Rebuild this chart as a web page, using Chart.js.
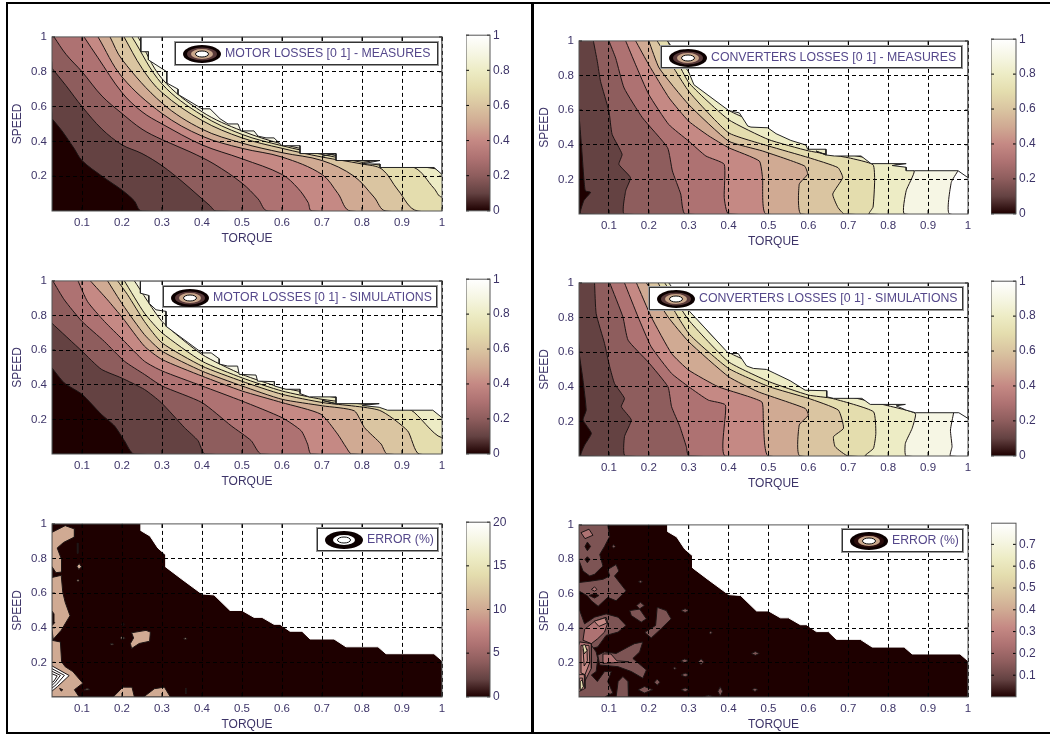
<!DOCTYPE html>
<html>
<head>
<meta charset="utf-8">
<title>Losses maps</title>
<script src="https://cdn.jsdelivr.net/npm/chart.js@4/dist/chart.umd.min.js"></script>
<style>
  html, body { margin: 0; background: #fff; width: 1050px; height: 735px; overflow: hidden; }
  canvas { position: absolute; filter: blur(0.4px); }
  .frame { position: absolute; border: 2px solid #000; box-sizing: border-box; }
  .leg { position: absolute; box-sizing: border-box; background: #fff; border: 1px solid #333; outline: 1px solid #999;
         font: 12.3px "Liberation Sans", Arial, sans-serif; color: #54478a; white-space: nowrap; filter: blur(0.3px); }
  .leg svg { position: absolute; left: 6px; top: 1px; }
  .leg span { position: absolute; top: 3px; }
</style>
</head>
<body>
<div class="frame" style="left:6px;top:2px;width:527px;height:732px"></div>
<div class="frame" style="left:532px;top:2px;width:530px;height:732px"></div>
<script>
const xTicks = [0.1, 0.2, 0.3, 0.4, 0.5, 0.6, 0.7, 0.8, 0.9, 1];
const yTicks = [0.2, 0.4, 0.6, 0.8, 1];
const xMin = 0.025;
const lossBarTicks = [0, 0.2, 0.4, 0.6, 0.8, 1];
const motorErrBarTicks = [0, 5, 10, 15, 20];
const convErrBarTicks = [0.1, 0.2, 0.3, 0.4, 0.5, 0.6, 0.7];
const lossBarRange = [0, 1];
const motorErrBarRange = [0, 20];
const convErrBarRange = [0.001, 0.797];

// pink colormap, one colour per contour level
const levelColors = ['#1e0000', '#644242', '#8e5d5d', '#ae7272', '#c58984', '#d0aa93', '#dac5a1', '#e4ddae', '#edecc5', '#f6f6e4', '#ffffff'];

// contour lines, level 0.1 first
const motorMeasures = [
  [[0.025,0.53],[0.05,0.46],[0.08,0.36],[0.1,0.29],[0.15,0.2],[0.2,0.12],[0.23,0.06],[0.25,0]],
  [[0.025,0.82],[0.06,0.72],[0.1,0.6],[0.15,0.47],[0.2,0.38],[0.25,0.33],[0.3,0.26],[0.35,0.17],[0.39,0.09],[0.42,0.03],[0.435,0]],
  [[0.03,1],[0.06,0.9],[0.1,0.8],[0.15,0.66],[0.2,0.56],[0.25,0.47],[0.3,0.41],[0.37,0.34],[0.43,0.27],[0.5,0.16],[0.54,0.07],[0.565,0]],
  [[0.105,1],[0.14,0.88],[0.2,0.68],[0.25,0.57],[0.3,0.5],[0.4,0.38],[0.5,0.3],[0.6,0.21],[0.64,0.13],[0.665,0.05],[0.675,0]],
  [[0.14,1],[0.2,0.77],[0.3,0.56],[0.4,0.43],[0.5,0.36],[0.6,0.31],[0.7,0.21],[0.74,0.1],[0.772,0]],
  [[0.17,1],[0.2,0.87],[0.3,0.62],[0.4,0.47],[0.5,0.39],[0.6,0.335],[0.7,0.29],[0.78,0.2],[0.83,0.08],[0.86,0]],
  [[0.205,1],[0.25,0.82],[0.3,0.68],[0.4,0.52],[0.5,0.42],[0.6,0.36],[0.7,0.31],[0.8,0.27],[0.85,0.24],[0.89,0.12],[0.94,0]],
  [[0.225,1],[0.3,0.73],[0.4,0.55],[0.5,0.44],[0.6,0.375],[0.7,0.325],[0.84,0.265],[0.93,0.25],[0.98,0.13],[1,0.08]],
  [[0.24,1],[0.3,0.76],[0.4,0.57],[0.5,0.46],[0.6,0.385],[0.7,0.335],[0.84,0.28]]
];
const motorMeasuresEdge = [[0.247,1],[0.247,0.915],[0.266,0.915],[0.266,0.868],[0.312,0.8],[0.312,0.735],[0.34,0.7],[0.34,0.67],[0.4,0.587],[0.42,0.587],[0.445,0.53],[0.465,0.5],[0.49,0.5],[0.497,0.46],[0.53,0.46],[0.54,0.43],[0.56,0.42],[0.58,0.42],[0.6,0.375],[0.645,0.375],[0.645,0.33],[0.665,0.33],[0.735,0.33],[0.7,0.315],[0.735,0.33],[0.735,0.29],[0.845,0.29],[0.8,0.27],[0.845,0.27],[0.845,0.25],[0.98,0.25],[1,0.21]];

const motorSims = [
  [[0.024,0.5],[0.056,0.41],[0.1,0.345],[0.148,0.23],[0.181,0.163],[0.206,0.077],[0.23,0]],
  [[0.024,0.757],[0.1,0.594],[0.148,0.49],[0.198,0.44],[0.256,0.373],[0.298,0.297],[0.356,0.153],[0.39,0.077],[0.408,0]],
  [[0.027,1],[0.056,0.89],[0.1,0.766],[0.156,0.65],[0.206,0.536],[0.256,0.46],[0.3,0.393],[0.4,0.297],[0.473,0.163],[0.523,0.077],[0.548,0]],
  [[0.09,1],[0.114,0.88],[0.156,0.766],[0.202,0.66],[0.256,0.536],[0.3,0.48],[0.4,0.393],[0.5,0.306],[0.6,0.21],[0.648,0.134],[0.664,0.057],[0.673,0]],
  [[0.121,1],[0.164,0.89],[0.202,0.785],[0.256,0.623],[0.3,0.546],[0.4,0.45],[0.5,0.364],[0.6,0.297],[0.697,0.23],[0.739,0.115],[0.76,0.04],[0.774,0]],
  [[0.164,1],[0.202,0.862],[0.256,0.69],[0.3,0.594],[0.4,0.479],[0.5,0.393],[0.6,0.316],[0.702,0.278],[0.781,0.249],[0.806,0.153],[0.848,0.057],[0.863,0]],
  [[0.189,1],[0.214,0.92],[0.256,0.766],[0.3,0.642],[0.4,0.508],[0.5,0.42],[0.6,0.345],[0.702,0.297],[0.843,0.253],[0.914,0.134],[0.943,0]],
  [[0.206,1],[0.256,0.814],[0.3,0.7],[0.4,0.536],[0.5,0.44],[0.6,0.364],[0.7,0.316],[0.84,0.278],[0.923,0.253],[0.998,0.096]],
  [[0.231,1],[0.3,0.766],[0.4,0.575],[0.5,0.46],[0.6,0.383],[0.735,0.326],[0.84,0.29]]
];
const motorSimsEdge = [[0.246,1],[0.246,0.929],[0.267,0.916],[0.267,0.872],[0.285,0.833],[0.31,0.824],[0.31,0.738],[0.4,0.584],[0.423,0.584],[0.443,0.55],[0.443,0.52],[0.464,0.508],[0.489,0.508],[0.493,0.46],[0.535,0.456],[0.539,0.421],[0.581,0.418],[0.581,0.393],[0.61,0.374],[0.645,0.374],[0.645,0.349],[0.668,0.33],[0.735,0.33],[0.735,0.291],[0.7,0.31],[0.735,0.291],[0.843,0.291],[0.8,0.28],[0.843,0.27],[0.864,0.253],[0.977,0.253],[1,0.21]];

const convMeasures = [
  [[0.025,0.575],[0.031,0.4],[0.037,0.21],[0.041,0.134],[0.054,0.125],[0.037,0.077],[0.029,0]],
  [[0.061,1],[0.071,0.88],[0.079,0.766],[0.1,0.594],[0.108,0.46],[0.133,0.345],[0.125,0.287],[0.154,0.21],[0.142,0.134],[0.139,0]],
  [[0.1,1],[0.117,0.9],[0.138,0.728],[0.184,0.556],[0.247,0.383],[0.259,0.249],[0.28,0.115],[0.291,0]],
  [[0.142,1],[0.167,0.862],[0.2,0.69],[0.25,0.517],[0.3,0.421],[0.343,0.335],[0.389,0.287],[0.389,0.096],[0.4,0]],
  [[0.167,1],[0.2,0.862],[0.251,0.67],[0.3,0.536],[0.351,0.45],[0.4,0.383],[0.477,0.306],[0.485,0.21],[0.494,0]],
  [[0.2,1],[0.226,0.843],[0.3,0.632],[0.4,0.421],[0.485,0.364],[0.59,0.278],[0.598,0.23],[0.577,0.172],[0.582,0]],
  [[0.221,1],[0.3,0.709],[0.4,0.469],[0.5,0.393],[0.6,0.326],[0.674,0.268],[0.686,0.21],[0.661,0.115],[0.674,0.038],[0.69,0]],
  [[0.247,1],[0.3,0.76],[0.4,0.545],[0.5,0.43],[0.6,0.365],[0.7,0.325],[0.762,0.285],[0.766,0.192],[0.762,0.04],[0.752,0]],
  [[0.27,1],[0.3,0.85],[0.4,0.6],[0.5,0.5],[0.6,0.41],[0.7,0.345],[0.8,0.3],[0.865,0.25],[0.845,0.134],[0.841,0]],
  [[0.975,0.25],[0.958,0.182],[0.954,0]]
];
const convMeasuresEdge = [[0.247,1],[0.3,0.82],[0.313,0.747],[0.4,0.598],[0.427,0.584],[0.448,0.508],[0.456,0.502],[0.498,0.498],[0.519,0.464],[0.556,0.425],[0.594,0.398],[0.598,0.374],[0.644,0.374],[0.644,0.341],[0.619,0.364],[0.644,0.341],[0.665,0.335],[0.732,0.335],[0.757,0.291],[0.845,0.291],[0.81,0.28],[0.845,0.27],[0.845,0.25],[0.866,0.25],[0.975,0.25],[1,0.21]];

const convSims = [
  [[0.026,0.583],[0.035,0.438],[0.043,0.265],[0.035,0.208],[0.056,0.131],[0.039,0.063],[0.03,0]],
  [[0.064,1],[0.068,0.823],[0.089,0.65],[0.102,0.515],[0.114,0.419],[0.139,0.333],[0.131,0.285],[0.156,0.208],[0.139,0.112],[0.141,0]],
  [[0.102,1],[0.135,0.804],[0.148,0.669],[0.198,0.544],[0.248,0.4],[0.257,0.285],[0.278,0.169],[0.294,0.054],[0.3,0]],
  [[0.139,1],[0.173,0.804],[0.206,0.631],[0.257,0.477],[0.3,0.4],[0.349,0.323],[0.392,0.294],[0.392,0]],
  [[0.169,1],[0.206,0.804],[0.257,0.592],[0.3,0.496],[0.374,0.4],[0.483,0.313],[0.487,0.208],[0.5,0]],
  [[0.194,1],[0.248,0.804],[0.3,0.66],[0.4,0.458],[0.474,0.371],[0.592,0.275],[0.6,0.236],[0.577,0.179],[0.579,0]],
  [[0.223,1],[0.3,0.708],[0.4,0.506],[0.502,0.4],[0.6,0.333],[0.675,0.265],[0.688,0.16],[0.663,0.112],[0.667,0.054],[0.7,0]],
  [[0.24,1],[0.3,0.785],[0.4,0.544],[0.502,0.429],[0.6,0.352],[0.659,0.333],[0.763,0.256],[0.769,0.131],[0.763,0.044],[0.742,0]],
  [[0.27,1],[0.3,0.85],[0.4,0.6],[0.5,0.5],[0.6,0.41],[0.7,0.345],[0.8,0.29],[0.868,0.246],[0.86,0.16],[0.843,0.073],[0.845,0]],
  [[0.964,0.25],[0.956,0.15],[0.96,0.054],[0.956,0]]
];
const convSimsEdge = [[0.25,1],[0.303,0.833],[0.4,0.592],[0.424,0.592],[0.445,0.52],[0.462,0.506],[0.495,0.5],[0.516,0.477],[0.554,0.435],[0.592,0.38],[0.646,0.377],[0.646,0.342],[0.663,0.333],[0.734,0.333],[0.755,0.298],[0.843,0.298],[0.82,0.29],[0.845,0.265],[0.868,0.25],[0.977,0.25],[1,0.217]];

const errorEdge = [[0.248,1],[0.248,0.96],[0.27,0.93],[0.29,0.86],[0.31,0.82],[0.31,0.75],[0.35,0.68],[0.4,0.595],[0.43,0.59],[0.47,0.5],[0.5,0.5],[0.53,0.46],[0.55,0.46],[0.58,0.42],[0.595,0.42],[0.62,0.38],[0.65,0.38],[0.67,0.335],[0.73,0.335],[0.76,0.29],[0.84,0.29],[0.86,0.25],[0.98,0.25],[1,0.21]];

// motor error map: closed patches above the dark background
const motorErrPatches = [
  [[0.024,0.95],[0.058,0.99],[0.082,0.97],[0.081,0.924],[0.054,0.893],[0.038,0.861],[0.049,0.794],[0.049,0.722],[0.035,0.718],[0.024,0.756]],
  [[0.024,0.69],[0.048,0.703],[0.052,0.604],[0.058,0.547],[0.07,0.47],[0.048,0.385],[0.028,0.333],[0.024,0.41],[0.032,0.43],[0.03,0.48],[0.024,0.5]],
  [[0.024,0.328],[0.046,0.318],[0.049,0.204],[0.058,0.175],[0.077,0.147],[0.102,0.08],[0.081,0.042],[0.093,0],[0.024,0]],
  [[0.224,0.371],[0.26,0.385],[0.271,0.375],[0.269,0.322],[0.243,0.309],[0.224,0.28],[0.221,0.309],[0.229,0.341]],
  [[0.178,0],[0.202,0.057],[0.225,0.057],[0.231,0]],
  [[0.254,0],[0.281,0.048],[0.306,0.057],[0.321,0]],
  [[0.196,0.341],[0.2,0.35],[0.208,0.34],[0.2,0.333]],
  [[0.087,0.756],[0.093,0.771],[0.099,0.752],[0.092,0.737]],
  [[0.088,0.89],[0.09,0.89],[0.09,0.83],[0.088,0.83]],
  [[0.087,0.674],[0.09,0.68],[0.093,0.674],[0.09,0.666]],
  [[0.105,0.04],[0.113,0.05],[0.12,0.042]],
  [[0.354,0.337],[0.358,0.342],[0.363,0.337],[0.358,0.332]],
  [[0.359,0.05],[0.361,0.05],[0.361,0.02],[0.359,0.02]],
  [[0.17,0.305],[0.175,0.31],[0.179,0.305],[0.175,0.3]]
];
const motorErrDots = [
  [[0.044,0.05],[0.052,0.042],[0.048,0.034]],
  [[0.198,0.42],[0.202,0.425],[0.206,0.42],[0.202,0.412]]
];
const motorErrPeak = [
  [[0.024,0.181],[0.068,0.124],[0.039,0.061],[0.024,0.032]],
  [[0.024,0.165],[0.056,0.125],[0.036,0.072],[0.024,0.05]],
  [[0.024,0.15],[0.046,0.125],[0.032,0.082],[0.024,0.066]],
  [[0.024,0.135],[0.038,0.122],[0.03,0.092],[0.024,0.082]]
];

// converters error map
const convErrPatches = [
  [[0.024,1],[0.097,1],[0.102,0.933],[0.089,0.875],[0.077,0.828],[0.085,0.761],[0.064,0.713],[0.052,0.703],[0.035,0.732],[0.024,0.799]],
  [[0.097,0.741],[0.118,0.77],[0.125,0.732],[0.114,0.703],[0.143,0.617],[0.118,0.559],[0.097,0.579],[0.073,0.527],[0.056,0.559],[0.046,0.588],[0.024,0.617],[0.024,0.665],[0.056,0.674],[0.085,0.684],[0.102,0.703]],
  [[0.024,0.521],[0.039,0.425],[0.064,0.464],[0.093,0.483],[0.123,0.464],[0.143,0.416],[0.123,0.377],[0.093,0.358],[0.072,0.291],[0.056,0.282],[0.024,0.31]],
  [[0.024,0.32],[0.056,0.301],[0.068,0.262],[0.072,0.224],[0.068,0.148],[0.056,0.128],[0.071,0.09],[0.089,0.148],[0.106,0.148],[0.097,0.09],[0.11,0.023],[0.089,0],[0.024,0]],
  [[0.072,0.243],[0.089,0.262],[0.118,0.253],[0.148,0.291],[0.164,0.31],[0.185,0.32],[0.177,0.262],[0.16,0.224],[0.194,0.157],[0.185,0.109],[0.156,0.148],[0.123,0.176],[0.077,0.186]],
  [[0.118,0],[0.123,0.09],[0.135,0.119],[0.148,0.09],[0.149,0]],
  [[0.173,0.042],[0.189,0.061],[0.21,0.042],[0.189,0.023]],
  [[0.152,0.502],[0.177,0.511],[0.194,0.454],[0.181,0.435],[0.156,0.473]],
  [[0.169,0.531],[0.179,0.55],[0.189,0.531],[0.177,0.512]],
  [[0.191,0.377],[0.217,0.416],[0.221,0.521],[0.244,0.502],[0.256,0.454],[0.231,0.397],[0.206,0.343],[0.191,0.373]],
  [[0.281,0.502],[0.291,0.513],[0.301,0.502],[0.291,0.491]],
  [[0.28,0.21],[0.29,0.221],[0.3,0.21],[0.29,0.199]],
  [[0.281,0.128],[0.291,0.139],[0.301,0.128],[0.291,0.117]],
  [[0.281,0.042],[0.291,0.053],[0.301,0.042],[0.291,0.031]],
  [[0.324,0.205],[0.331,0.222],[0.338,0.205],[0.331,0.188]],
  [[0.373,0.033],[0.379,0.06],[0.385,0.033],[0.379,0.004]],
  [[0.457,0.253],[0.467,0.264],[0.477,0.253],[0.467,0.242]],
  [[0.459,0.042],[0.466,0.052],[0.473,0.042],[0.466,0.032]],
  [[0.351,0.374],[0.355,0.382],[0.359,0.374],[0.355,0.366]],
  [[0.174,0.67],[0.179,0.677],[0.184,0.67],[0.179,0.663]],
  [[0.108,0.875],[0.112,0.886],[0.116,0.875],[0.112,0.864]],
  [[0.214,0.086],[0.221,0.104],[0.228,0.086],[0.221,0.068]],
  [[0.261,0.167],[0.265,0.174],[0.269,0.167],[0.265,0.16]],
  [[0.335,0],[0.35,0.01],[0.365,0]]
];
const convErrDark = [
  [[0.04,0.875],[0.046,0.9],[0.054,0.875],[0.046,0.85]],
  [[0.04,0.8],[0.046,0.815],[0.052,0.8],[0.046,0.78]],
  [[0.05,0.59],[0.064,0.6],[0.075,0.59],[0.064,0.575]]
];
const convErrMid = [
  [[0.039,0.393],[0.064,0.44],[0.093,0.463],[0.097,0.43],[0.089,0.377],[0.072,0.339],[0.056,0.31],[0.035,0.33]],
  [[0.085,0.25],[0.105,0.25],[0.12,0.21],[0.15,0.205],[0.085,0.195]],
  [[0.027,0.32],[0.056,0.31],[0.056,0.167],[0.035,0.071],[0.024,0.052],[0.024,0.3]],
  [[0.03,0.955],[0.05,0.975],[0.06,0.94],[0.04,0.92]],
  [[0.056,0.625],[0.064,0.64],[0.07,0.625],[0.064,0.615]]
];
const convErrHigh = [
  [[0.063,0.44],[0.09,0.46],[0.095,0.43],[0.075,0.41]],
  [[0.03,0.3],[0.05,0.3],[0.052,0.2],[0.04,0.13],[0.03,0.14]],
  [[0.035,0.28],[0.045,0.28],[0.046,0.21],[0.038,0.18]],
  [[0.024,0.13],[0.038,0.13],[0.04,0.05],[0.024,0.03]],
  [[0.026,0.11],[0.034,0.11],[0.036,0.06],[0.026,0.05]]
];
const convErrPeak = [
  [[0.034,0.3],[0.04,0.305],[0.045,0.27],[0.038,0.25]],
  [[0.028,0.09],[0.033,0.1],[0.036,0.06],[0.03,0.04]]
];

const fontFamily = '"Liberation Sans", Arial, sans-serif';
const textColor = '#3d3468';
const lineColor = '#1c1414';

// the plot frame and the inward tick marks of each axis
const framePlugin = {
  id: 'frame',
  afterDraw(chart) {
    const { ctx, chartArea: a, scales } = chart;
    ctx.save();
    ctx.strokeStyle = '#000';
    ctx.lineWidth = 1;
    ctx.beginPath();
    if (scales.x.options.display) {
      scales.x.ticks.forEach(t => {
        const px = scales.x.getPixelForValue(t.value);
        ctx.moveTo(px, a.bottom); ctx.lineTo(px, a.bottom - 4);
        ctx.moveTo(px, a.top); ctx.lineTo(px, a.top + 4);
      });
    }
    scales.y.ticks.forEach(t => {
      const py = scales.y.getPixelForValue(t.value);
      ctx.moveTo(a.left, py); ctx.lineTo(a.left + 3, py);
      ctx.moveTo(a.right, py); ctx.lineTo(a.right - 3, py);
    });
    ctx.stroke();
    ctx.strokeStyle = '#555';
    ctx.strokeRect(a.left, a.top, a.right - a.left, a.bottom - a.top);
    ctx.restore();
  }
};

function addCanvas(left, top, width, height) {
  const c = document.createElement('canvas');
  c.width = width;
  c.height = height;
  c.style.left = left + 'px';
  c.style.top = top + 'px';
  document.body.appendChild(c);
  return c;
}

function closed(points) {
  return points.concat([points[0]]);
}

// area on the high side of a contour line; it closes outside the axes where
// the clip hides it, and the mask cuts it down to the envelope
function region(curve) {
  const first = curve[0], last = curve[curve.length - 1];
  return closed(curve.concat([[1.3, last[1]], [1.3, 1.3], [first[0], 1.3]]));
}

function shape(points, fillColor, border, tension) {
  return {
    data: points,
    showLine: true,
    fill: 'shape',
    backgroundColor: fillColor,
    borderColor: border,
    borderWidth: 1,
    pointRadius: 0,
    tension: tension || 0
  };
}

function contourSets(curves, edge, tension) {
  const sets = [shape(closed([[xMin, 0], [1, 0], [1, 1], [xMin, 1]]), levelColors[0], lineColor)];
  curves.forEach((curve, i) => {
    sets.push(shape(region(curve), levelColors[i + 1], lineColor, tension));
  });
  sets.push(shape(closed(edge.concat([[1, 1]])), '#ffffff', '#222'));
  return sets;
}

function patchSets(groups, edge) {
  const sets = [shape(closed([[xMin, 0], [1, 0], [1, 1], [xMin, 1]]), levelColors[0], lineColor)];
  groups.forEach(g => g.polys.forEach(p => sets.push(shape(closed(p), g.color, lineColor))));
  sets.push(shape(closed(edge.concat([[1, 1]])), '#ffffff', '#ffffff'));
  return sets;
}

function drawPlot(box, sets) {
  const leftW = 42, rightW = 12, topH = 10, bottomH = 35;
  const canvas = addCanvas(box.x - leftW, box.y - topH, box.w + leftW + rightW, box.h + topH + bottomH);
  sets.forEach((s, i) => { s.order = sets.length - i; });
  new Chart(canvas, {
    type: 'scatter',
    data: { datasets: sets },
    plugins: [framePlugin],
    options: {
      responsive: false,
      animation: false,
      layout: { padding: { top: topH, right: rightW } },
      plugins: { legend: { display: false }, tooltip: { enabled: false } },
      events: [],
      scales: {
        x: {
          type: 'linear', min: xMin, max: 1,
          afterBuildTicks: s => { s.ticks = xTicks.map(v => ({ value: v })); },
          afterFit: s => { s.height = bottomH; },
          grid: { z: 1, color: '#000', drawTicks: false },
          border: { display: false, dash: [4, 3] },
          ticks: { autoSkip: false, maxRotation: 0, padding: 5, color: textColor, font: { family: fontFamily, size: 11.5 }, callback: v => String(v) },
          title: { display: true, text: 'TORQUE', color: textColor, font: { family: fontFamily, size: 12 }, padding: 0 }
        },
        y: {
          type: 'linear', min: 0, max: 1,
          afterBuildTicks: s => { s.ticks = yTicks.map(v => ({ value: v })); },
          afterFit: s => { s.width = leftW; },
          grid: { z: 1, color: c => (c.tick && c.tick.value === 1 ? 'rgba(0,0,0,0)' : '#000'), drawTicks: false },
          border: { display: false, dash: [4, 3] },
          ticks: { autoSkip: false, padding: 5, color: textColor, font: { family: fontFamily, size: 11.5 }, callback: v => String(v) },
          title: { display: true, text: 'SPEED', color: textColor, font: { family: fontFamily, size: 12 }, padding: 0 }
        }
      }
    }
  });
}

function drawColorbar(box, range, ticks) {
  const topH = 10, rightW = 36;
  const canvas = addCanvas(box.x, box.y - topH, box.w + rightW, box.h + 2 * topH);
  new Chart(canvas, {
    type: 'bar',
    data: {
      labels: [''],
      datasets: [{
        data: [range],
        barPercentage: 1,
        categoryPercentage: 1,
        backgroundColor(ctx) {
          const a = ctx.chart.chartArea;
          if (!a) return levelColors[5];
          const g = ctx.chart.ctx.createLinearGradient(0, a.bottom, 0, a.top);
          levelColors.forEach((c, i) => g.addColorStop(i / (levelColors.length - 1), c));
          return g;
        }
      }]
    },
    plugins: [framePlugin],
    options: {
      responsive: false,
      animation: false,
      layout: { padding: { top: topH, bottom: topH } },
      plugins: { legend: { display: false }, tooltip: { enabled: false } },
      events: [],
      scales: {
        x: { display: false },
        y: {
          position: 'right', min: range[0], max: range[1],
          afterBuildTicks: s => { s.ticks = ticks.map(v => ({ value: v })); },
          afterFit: s => { s.width = rightW; },
          grid: { display: false, drawTicks: false },
          border: { display: false },
          ticks: { autoSkip: false, padding: 3, color: textColor, font: { family: fontFamily, size: 12 }, callback: v => String(v) }
        }
      }
    }
  });
}

function addLegend(box, text, textLeft, rings) {
  const d = document.createElement('div');
  d.className = 'leg';
  d.style.cssText = `left:${box.x}px;top:${box.y}px;width:${box.w}px;height:${box.h}px;z-index:5`;
  d.innerHTML = `<svg width="40" height="20"><ellipse cx="20" cy="10" rx="19" ry="9" fill="#0c0000"/>` +
    `<ellipse cx="20" cy="10" rx="15" ry="6.5" fill="${rings[0]}"/><ellipse cx="20" cy="10" rx="11" ry="5" fill="${rings[1]}"/>` +
    `<ellipse cx="20" cy="10" rx="6.5" ry="3" fill="#fff" stroke="#111"/></svg><span style="left:${textLeft}px">${text}</span>`;
  document.body.appendChild(d);
}

drawPlot({ x: 52, y: 35, w: 390, h: 176 }, contourSets(motorMeasures, motorMeasuresEdge, 0.35));
drawPlot({ x: 52, y: 279, w: 390, h: 175 }, contourSets(motorSims, motorSimsEdge, 0.2));
drawPlot({ x: 52, y: 522, w: 390, h: 175 }, patchSets([
  { polys: motorErrPatches, color: levelColors[5] },
  { polys: motorErrDots, color: levelColors[0] },
  { polys: motorErrPeak, color: '#ffffff' }
], errorEdge));
drawPlot({ x: 579, y: 39, w: 389, h: 175 }, contourSets(convMeasures, convMeasuresEdge, 0.15));
drawPlot({ x: 579, y: 281, w: 389, h: 175 }, contourSets(convSims, convSimsEdge, 0.15));
drawPlot({ x: 579, y: 523, w: 389, h: 174 }, patchSets([
  { polys: convErrPatches, color: '#7d5454' },
  { polys: convErrDark, color: levelColors[0] },
  { polys: convErrMid, color: '#ae7272' },
  { polys: convErrHigh, color: '#c58984' },
  { polys: convErrPeak, color: levelColors[7] }
], errorEdge));

drawColorbar({ x: 466, y: 35, w: 24, h: 176 }, lossBarRange, lossBarTicks);
drawColorbar({ x: 466, y: 279, w: 24, h: 175 }, lossBarRange, lossBarTicks);
drawColorbar({ x: 466, y: 522, w: 24, h: 175 }, motorErrBarRange, motorErrBarTicks);
drawColorbar({ x: 991, y: 39, w: 25, h: 175 }, lossBarRange, lossBarTicks);
drawColorbar({ x: 991, y: 281, w: 25, h: 175 }, lossBarRange, lossBarTicks);
drawColorbar({ x: 991, y: 523, w: 25, h: 174 }, convErrBarRange, convErrBarTicks);

addLegend({ x: 175, y: 42, w: 263, h: 23 }, 'MOTOR LOSSES [0 1] - MEASURES', 49, ['#5a3a3a', '#c9a68a']);
addLegend({ x: 163, y: 286, w: 274, h: 21 }, 'MOTOR LOSSES [0 1] - SIMULATIONS', 49, ['#5a3a3a', '#c9a68a']);
addLegend({ x: 317, y: 528, w: 121, h: 23 }, 'ERROR (%)', 49, ['#0c0000', '#ffffff']);
addLegend({ x: 661, y: 46, w: 301, h: 22 }, 'CONVERTERS LOSSES [0 1] - MEASURES', 49, ['#5a3a3a', '#c9a68a']);
addLegend({ x: 649, y: 287, w: 314, h: 23 }, 'CONVERTERS LOSSES [0 1] - SIMULATIONS', 49, ['#5a3a3a', '#c9a68a']);
addLegend({ x: 842, y: 529, w: 121, h: 23 }, 'ERROR (%)', 49, ['#2a0c0c', '#c9a68a']);
</script>
</body>
</html>
